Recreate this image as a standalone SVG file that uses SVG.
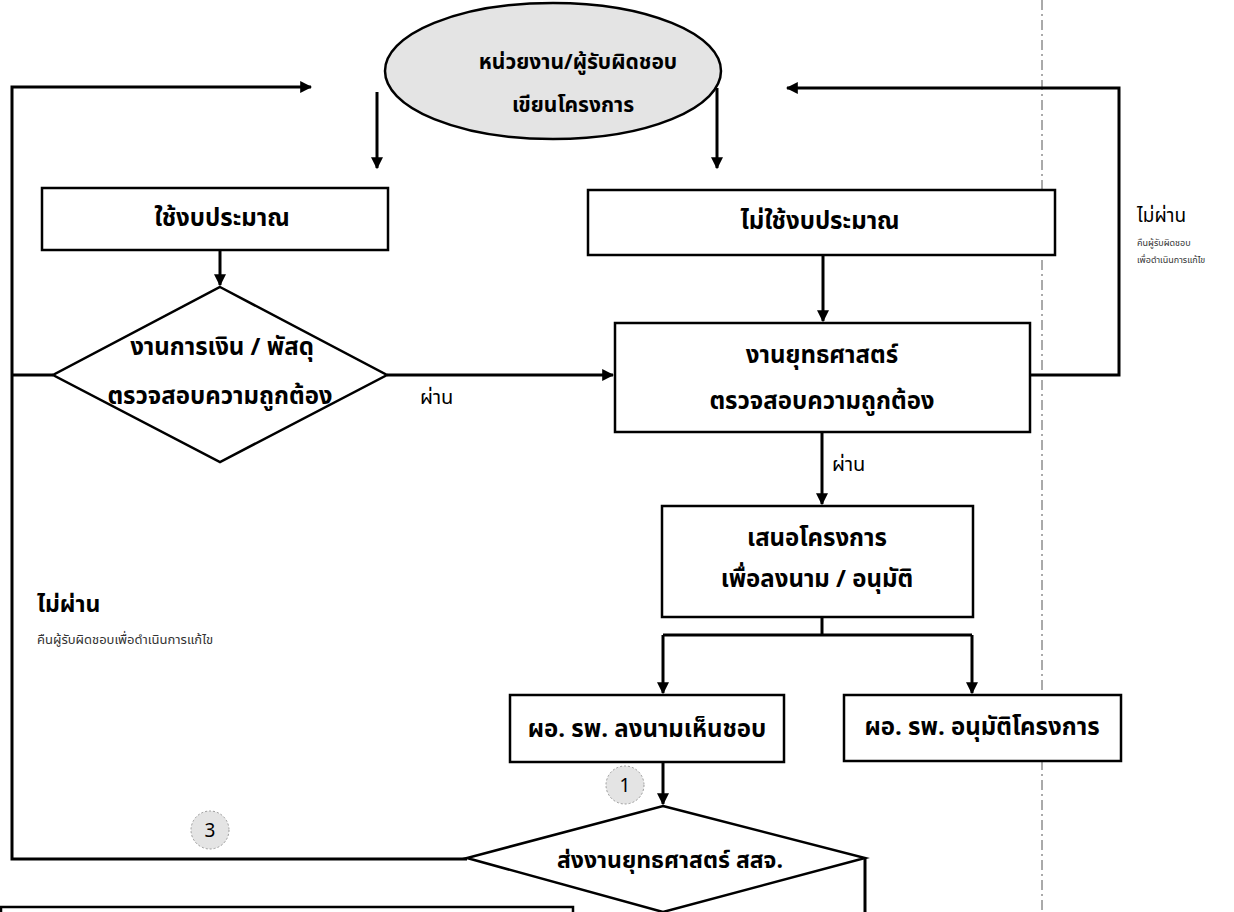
<svg xmlns="http://www.w3.org/2000/svg" width="1234" height="912" viewBox="0 0 1234 912">
<defs>
<style>
.box{fill:#fff;stroke:#000;stroke-width:2.5}
.shade{fill:#e4e4e4;stroke:#000;stroke-width:2.5}
.ln{fill:none;stroke:#000;stroke-width:3}
.t{font-family:"Noto Sans Thai","Loma","Garuda","Norasi","Tlwg Typo","Noto Sans",sans-serif;font-weight:bold;font-size:24px;fill:#000;text-anchor:middle;dominant-baseline:central}
.l{font-family:"Noto Sans Thai","Loma","Garuda","Norasi","Noto Sans",sans-serif;font-size:20px;fill:#000;dominant-baseline:central}
.s{font-family:"Noto Sans Thai","Loma","Garuda","Norasi","Noto Sans",sans-serif;font-size:9px;fill:#333;dominant-baseline:central}
</style>
<marker id="ah" viewBox="0 0 10 10" refX="9" refY="5" markerWidth="4" markerHeight="4" orient="auto" markerUnits="strokeWidth">
<path d="M0,0 L10,5 L0,10 z" fill="#000"/>
</marker>
</defs>
<rect width="1234" height="912" fill="#fff"/>
<line x1="1042" y1="0" x2="1042" y2="912" stroke="#555" stroke-width="1" stroke-dasharray="10,4,2,4"/>

<g id="connectors">
<path class="ln" d="M377,92 V168" marker-end="url(#ah)"/>
<path class="ln" d="M717,88 V168" marker-end="url(#ah)"/>
<path class="ln" d="M220,250 V285" marker-end="url(#ah)"/>
<path class="ln" d="M823,255 V321" marker-end="url(#ah)"/>
<path class="ln" d="M387,375 H613" marker-end="url(#ah)"/>
<path class="ln" d="M822,432 V504" marker-end="url(#ah)"/>
<path class="ln" d="M822,617 V635"/>
<path class="ln" d="M663,635 H972"/>
<path class="ln" d="M663,635 V693" marker-end="url(#ah)"/>
<path class="ln" d="M972,635 V693" marker-end="url(#ah)"/>
<path class="ln" d="M663,762 V804" marker-end="url(#ah)"/>
<path class="ln" d="M1030,375 H1119 V88 H787" marker-end="url(#ah)"/>
<path class="ln" d="M53,375 H12"/>
<path class="ln" d="M467,859 H12 V87 H311" marker-end="url(#ah)"/>
<path class="ln" d="M865,858 V912"/>
</g>

<g id="start">
<ellipse class="shade" cx="553" cy="71" rx="168" ry="68"/>
<text class="t" x="578" y="62" style="font-size:21px">หน่วยงาน/ผู้รับผิดชอบ</text>
<text class="t" x="573" y="105" style="font-size:21px">เขียนโครงการ</text>
</g>

<g id="budget">
<rect class="box" x="42" y="188" width="346" height="62"/>
<text class="t" x="222" y="219">ใช้งบประมาณ</text>
</g>

<g id="nobudget">
<rect class="box" x="588" y="190" width="467" height="65"/>
<text class="t" x="820" y="222">ไม่ใช้งบประมาณ</text>
</g>

<g id="finance">
<polygon class="box" points="220,287 387,375 220,462 53,375"/>
<text class="t" x="222" y="348">งานการเงิน / พัสดุ</text>
<text class="t" x="220" y="397">ตรวจสอบความถูกต้อง</text>
</g>

<g id="strategy">
<rect class="box" x="615" y="323" width="415" height="109"/>
<text class="t" x="822" y="356">งานยุทธศาสตร์</text>
<text class="t" x="822" y="402">ตรวจสอบความถูกต้อง</text>
</g>

<g id="propose">
<rect class="box" x="662" y="506" width="311" height="111"/>
<text class="t" x="817" y="539">เสนอโครงการ</text>
<text class="t" x="817" y="580">เพื่อลงนาม / อนุมัติ</text>
</g>

<g id="sign">
<rect class="box" x="510" y="695" width="274" height="67"/>
<text class="t" x="647" y="730">ผอ. รพ. ลงนามเห็นชอบ</text>
</g>

<g id="approve">
<rect class="box" x="844" y="695" width="277" height="66"/>
<text class="t" x="982" y="728">ผอ. รพ. อนุมัติโครงการ</text>
</g>

<g id="send">
<polygon class="box" points="663,806 865,858 663,912 467,858"/>
<text class="t" x="670" y="861" style="font-size:23px">ส่งงานยุทธศาสตร์ สสจ.</text>
</g>

<g id="bottombox">
<rect class="box" x="1" y="907" width="572" height="20"/>
</g>

<g id="marker1">
<circle cx="625" cy="785" r="19" fill="#e4e4e4" stroke="#999" stroke-width="1" stroke-dasharray="2,2"/>
<text class="t" x="625" y="786" style="font-weight:normal;font-size:19px">1</text>
</g>
<g id="marker3">
<circle cx="210" cy="830" r="19" fill="#e4e4e4" stroke="#999" stroke-width="1" stroke-dasharray="2,2"/>
<text class="t" x="210" y="831" style="font-weight:normal;font-size:19px">3</text>
</g>

<g id="labels">
<text class="l" x="420" y="398">ผ่าน</text>
<text class="l" x="832" y="465">ผ่าน</text>
<text class="l" x="1137" y="216" style="font-size:19px">ไม่ผ่าน</text>
<text class="s" x="1137" y="243">คืนผู้รับผิดชอบ</text>
<text class="s" x="1137" y="260">เพื่อดำเนินการแก้ไข</text>
<text class="l" x="37" y="605" style="font-size:23px;font-weight:bold">ไม่ผ่าน</text>
<text class="s" x="37" y="640" style="font-size:13px">คืนผู้รับผิดชอบเพื่อดำเนินการแก้ไข</text>
</g>
</svg>
